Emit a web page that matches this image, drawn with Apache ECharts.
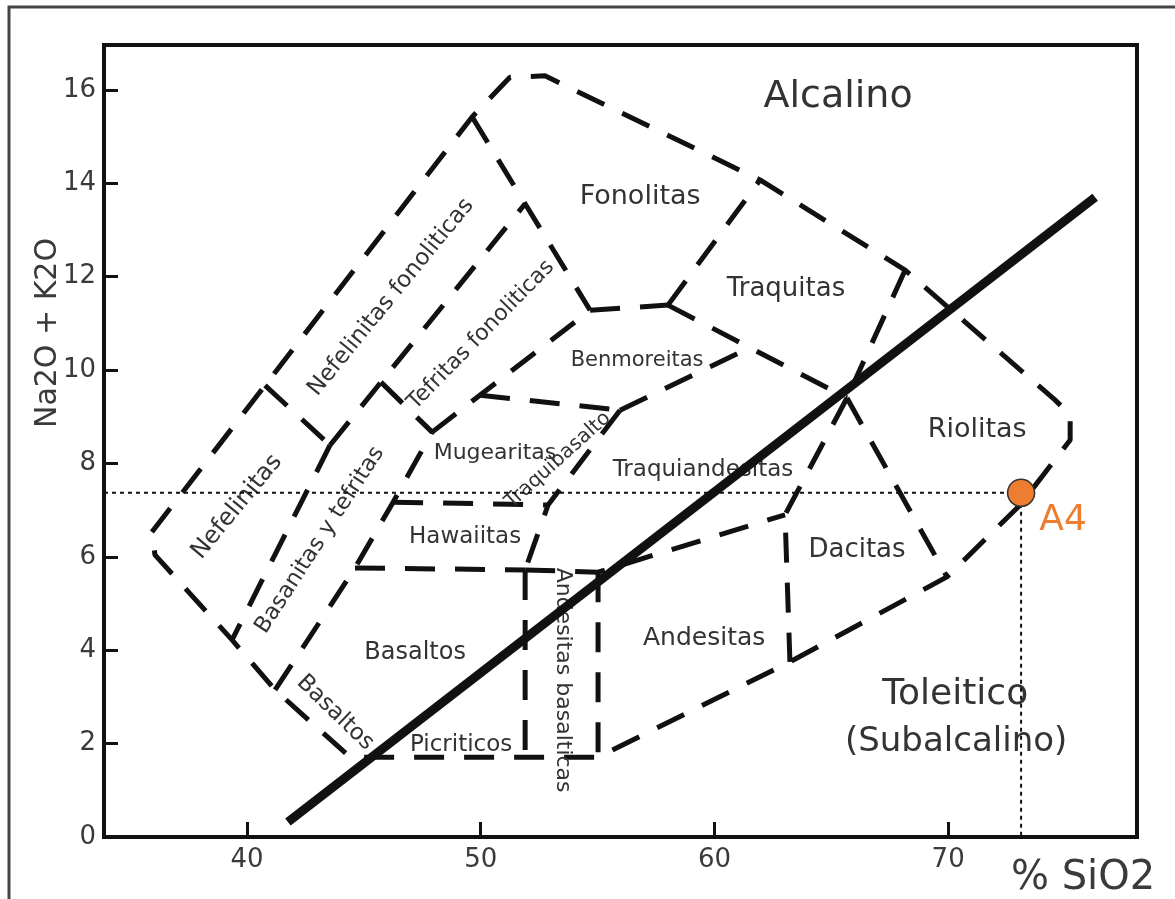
<!DOCTYPE html>
<html>
<head>
<meta charset="utf-8">
<title>Diagrama TAS</title>
<script src="https://cdn.jsdelivr.net/npm/echarts@6/dist/echarts.min.js"></script>
<style>
  html, body { margin: 0; padding: 0; background: #fff; }
  #chart { width: 1175px; height: 899px; }
</style>
</head>
<body>
<div id="chart"></div>
<script>
//--------------------------------
// Datos
//--------------------------------
const xTicks = [40, 50, 60, 70];
const yTicks = [0, 2, 4, 6, 8, 10, 12, 14, 16];

// limite exterior de todos los campos
const bordeExterior = [
    [35.93, 6.53], [49.63, 15.42], [51.25, 16.27], [52.75, 16.30], [61.95, 14.07],
    [68.16, 12.14], [74.57, 9.36], [75.22, 9.04], [75.22, 8.50], [73.08, 7.11],
    [69.95, 5.57], [63.23, 3.75], [55.02, 1.71], [44.41, 1.71], [41.20, 3.15],
    [39.36, 4.22], [36.06, 6.04], [35.93, 6.53]
];
// divisiones internas
const nefelinitasSup = [[40.77, 9.67], [43.55, 8.39]];
const nefelinitasDer = [[43.55, 8.39], [39.36, 4.22]];
const nefFonoliticasInf = [[43.55, 8.39], [51.90, 13.56]];
const fonolitasIzq = [[49.63, 15.42], [54.68, 11.28]];
const tefritasInf = [[45.73, 9.74], [47.92, 8.67]];
const tefritasDer = [[47.92, 8.67], [54.68, 11.28]];
const basanitasDer = [[41.20, 3.15], [44.62, 5.76], [46.25, 7.17], [47.92, 8.67]];
const mugearitasSup = [[49.97, 9.46], [55.96, 9.14]];
const traquibasaltoLinea = [[55.96, 9.14], [52.88, 7.11], [51.90, 5.72]];
const benmoreitasInf = [[55.96, 9.14], [61.52, 10.48]];
const fonolitasInf = [[54.68, 11.28], [58.01, 11.39]];
const fonolitasTraquitas = [[58.01, 11.39], [61.95, 14.07]];
const traquitasInf = [[58.01, 11.39], [65.67, 9.40]];
const traquitasRiolitas = [[68.16, 12.14], [65.67, 9.40]];
const dacitasIzq = [[65.67, 9.40], [63.02, 6.90], [63.23, 3.75]];
const dacitasRiolitas = [[65.67, 9.40], [69.95, 5.57]];
const andesitasSup = [[51.90, 5.72], [55.02, 5.67], [63.02, 6.90]];
const hawaiitasInf = [[44.62, 5.76], [51.90, 5.72]];
const hawaiitasSup = [[46.25, 7.17], [52.88, 7.11]];
const andBasalticasIzq = [[51.90, 5.72], [51.90, 1.71]];
const andBasalticasDer = [[55.02, 5.67], [55.02, 1.71]];

// linea alcalino / subalcalino
const lineaAlcalina = [[41.75, 0.32], [76.29, 13.70]];

// muestra
const muestraA4 = [73.12, 7.37];

// nombres de los campos
const nombresCampos = [
    'Alcalino', 'Fonolitas', 'Traquitas', 'Benmoreitas', 'Riolitas', 'Mugearitas',
    'Traquiandesitas', 'Hawaiitas', 'Dacitas', 'Basaltos', 'Andesitas', 'Picriticos',
    'Toleitico', '(Subalcalino)', 'Nefelinitas', 'Nefelinitas fonoliticas',
    'Tefritas fonoliticas', 'Basanitas y tefritas', 'Basaltos', 'Traquibasalto',
    'Andesitas basalticas'
];
const posicionCampos = [
    [65.29, 15.85], [56.82, 13.70], [63.06, 11.73], [56.69, 10.21], [71.24, 8.72], [50.61, 8.22],
    [59.51, 7.86], [49.33, 6.42], [66.10, 6.15], [47.19, 3.94], [59.56, 4.26], [49.16, 1.97],
    [70.30, 3.04], [70.34, 2.03], [39.57, 7.07], [46.16, 11.56],
    [50.01, 10.75], [43.12, 6.36], [43.77, 2.66], [53.31, 8.07],
    [53.52, 3.36]
];

//--------------------------------
// Estilos
//--------------------------------
const fuente = 'DejaVu Sans';
const colorTexto = '#333';
const tamanoCampos = [38, 27, 26, 21, 27, 22, 23, 23, 26, 24, 25, 23, 36, 34, 24, 23, 22, 22.5, 23, 20, 22];
const rotacionCampos = [0, 0, 0, 0, 0, 0, 0, 0, 0, 0, 0, 0, 0, 0, 50.5, 50.7, 45.7, 57, -44, 42, -90];

const guiones = { color: '#111', width: 5, type: [30, 20], cap: 'butt' };

const lineasDiscontinuas = [
    bordeExterior, nefelinitasSup, nefelinitasDer, nefFonoliticasInf, fonolitasIzq,
    tefritasInf, tefritasDer, basanitasDer, mugearitasSup, traquibasaltoLinea,
    benmoreitasInf, fonolitasInf, fonolitasTraquitas, traquitasInf, traquitasRiolitas,
    dacitasIzq, dacitasRiolitas, andesitasSup, hawaiitasInf, hawaiitasSup,
    andBasalticasIzq, andBasalticasDer
];

//--------------------------------
// Grafico
//--------------------------------
var myChart = echarts.init(document.getElementById('chart'));

let series = lineasDiscontinuas.map((l) => ({
    type: 'line',
    data: l,
    symbol: 'none',
    silent: true,
    lineStyle: guiones,
    z: 2
}));

series.push({
    type: 'scatter',
    symbolSize: 0,
    silent: true,
    z: 3,
    itemStyle: { opacity: 1 },
    label: {
        show: true,
        position: 'inside',
        formatter: '{b}',
        color: colorTexto,
        fontFamily: fuente
    },
    data: nombresCampos.map((n, i) => ({
        name: n,
        value: posicionCampos[i],
        label: { fontSize: tamanoCampos[i], rotate: rotacionCampos[i] }
    }))
});

series.push({
    type: 'line',
    data: lineaAlcalina,
    symbol: 'none',
    silent: true,
    lineStyle: { color: '#111', width: 9, cap: 'butt' },
    z: 4
});

// lineas punteadas de la muestra
series.push({
    type: 'line',
    data: [[33.88, muestraA4[1]], muestraA4, [muestraA4[0], 0]],
    symbol: 'none',
    silent: true,
    lineStyle: { color: '#111', width: 2, type: [4, 4] },
    z: 5
});

series.push({
    type: 'scatter',
    data: [{ name: 'A4', value: muestraA4 }],
    symbolSize: 27,
    itemStyle: { color: '#ED7D31', borderColor: '#333', borderWidth: 1.5, opacity: 1 },
    label: {
        show: true,
        formatter: '{b}',
        position: 'inside',
        offset: [42, 28],
        color: '#ED7D31',
        fontSize: 36,
        fontFamily: fuente
    },
    z: 6
});

let options = {
    animation: false,
    backgroundColor: '#fff',
    grid: {
        left: 104,
        right: 38,
        top: 45,
        bottom: 62,
        show: true,
        borderColor: '#111',
        borderWidth: 4,
        outerBoundsMode: 'none'
    },
    xAxis: {
        type: 'value',
        min: 33.88,
        max: 78.08,
        splitLine: { show: false },
        axisLine: { lineStyle: { color: '#111', width: 4 } },
        axisTick: {
            inside: true,
            length: 15,
            customValues: xTicks,
            lineStyle: { color: '#111', width: 3 }
        },
        axisLabel: {
            customValues: xTicks,
            margin: 10,
            fontSize: 26,
            color: '#3a3a3a',
            fontFamily: fuente
        }
    },
    yAxis: {
        type: 'value',
        min: 0,
        max: 16.96,
        splitLine: { show: false },
        axisLine: { lineStyle: { color: '#111', width: 4 } },
        axisTick: {
            inside: true,
            length: 14,
            customValues: yTicks.slice(1),
            lineStyle: { color: '#111', width: 3 }
        },
        axisLabel: {
            customValues: yTicks,
            margin: 8,
            fontSize: 26,
            color: '#3a3a3a',
            fontFamily: fuente
        }
    },
    graphic: [
        {
            type: 'polyline',
            shape: { points: [[9, 899], [9, 7], [1175, 7]] },
            style: { stroke: '#444', lineWidth: 3, fill: null },
            silent: true
        },
        {
            type: 'text',
            x: 48,
            y: 333,
            rotation: Math.PI / 2,
            style: {
                text: 'Na2O + K2O',
                fontSize: 30,
                fontFamily: fuente,
                fill: '#3a3a3a',
                align: 'center',
                verticalAlign: 'middle'
            },
            silent: true
        },
        {
            type: 'text',
            x: 1083,
            y: 879,
            style: {
                text: '% SiO2',
                fontSize: 40,
                fontFamily: fuente,
                fill: '#3a3a3a',
                align: 'center',
                verticalAlign: 'middle'
            },
            silent: true
        }
    ],
    series: series
};

myChart.setOption(options);
</script>
</body>
</html>
